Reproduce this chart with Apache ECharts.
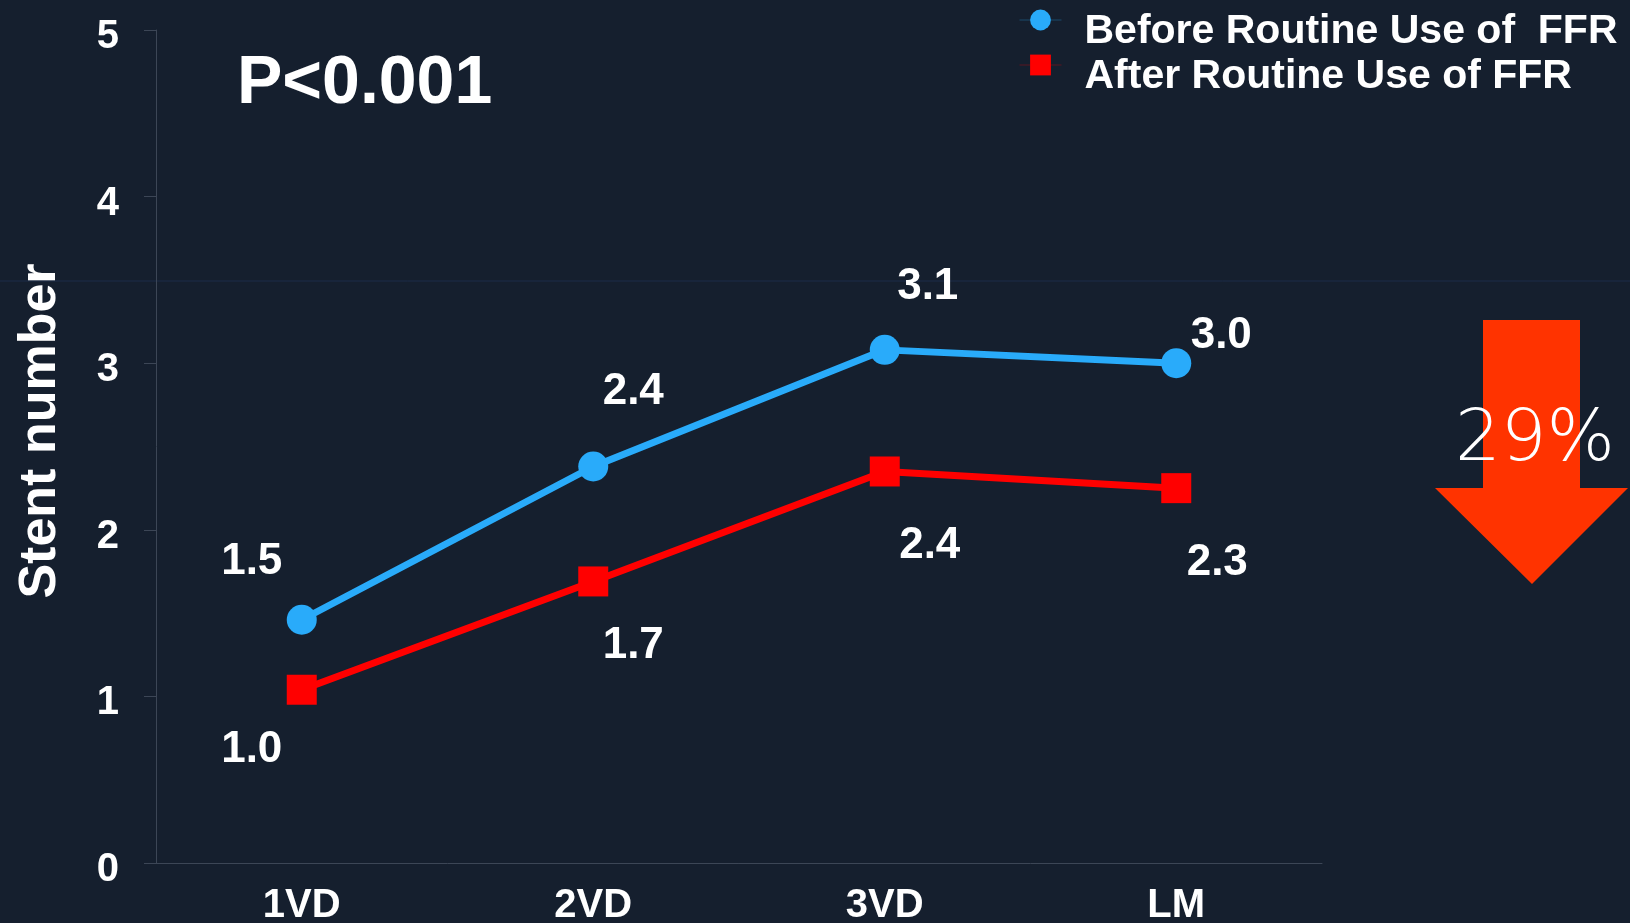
<!DOCTYPE html>
<html>
<head>
<meta charset="utf-8">
<title>Stent number</title>
<script src="https://cdn.jsdelivr.net/npm/echarts@6/dist/echarts.min.js"></script>
<style>
  html, body { margin: 0; padding: 0; background: #151f2e; }
  #chart { width: 1630px; height: 923px; }
</style>
</head>
<body>
<div id="chart"></div>
<script>
// Data
var categories = ['1VD', '2VD', '3VD', 'LM'];
var beforeValues = [1.46, 2.38, 3.08, 3.00];
var afterValues = [1.04, 1.69, 2.35, 2.25];
var beforeLabels = ['1.5', '2.4', '3.1', '3.0'];
var afterLabels = ['1.0', '1.7', '2.4', '2.3'];
var yTicks = [0, 1, 2, 3, 4, 5];
var seriesNames = ['Before Routine Use of  FFR', 'After Routine Use of FFR'];

// where each value label sits relative to its marker
var beforeOffsets = [[-50, -58], [40, -75], [43, -63], [45, -27]];
var afterOffsets = [[-50, 60], [40, 64], [45, 74], [41, 75]];

var FONT = "'Liberation Sans', Arial, sans-serif";

document.addEventListener('DOMContentLoaded', function() {
    var chart = echarts.init(document.getElementById('chart'));

    function withLabels(values, offsets) {
        return values.map(function(v, i) {
            return { value: v, label: { offset: offsets[i] } };
        });
    }

    // two stacked legends: one draws the markers, the other the text
    // (the text sits a little lower than the markers on the slide)
    function legend(top, showIcons, showText) {
        return {
            left: 1019,
            top: top,
            padding: 0,
            orient: 'vertical',
            itemWidth: 42,
            itemHeight: 26,
            itemGap: 1,
            itemStyle: { opacity: showIcons ? 1 : 0 },
            lineStyle: { width: 1, opacity: showIcons ? 0.3 : 0 },
            textStyle: {
                color: showText ? '#ffffff' : 'rgba(0,0,0,0)',
                fontFamily: FONT,
                fontWeight: 'bold',
                fontSize: 41,
                lineHeight: 24,
                padding: [20, 0, 0, 18]
            },
            data: seriesNames
        };
    }

    var option = {
        backgroundColor: '#151f2e',
        animation: false,
        grid: { left: 156, right: 308, top: 30, bottom: 60, outerBoundsMode: 'none' },
        legend: [legend(-2, true, false), legend(10, false, true)],
        xAxis: {
            type: 'category',
            data: categories,
            boundaryGap: true,
            axisLine: { lineStyle: { color: '#3c4656', width: 1 } },
            axisTick: { alignWithLabel: true, length: 13, lineStyle: { color: '#3c4656' } },
            axisLabel: {
                color: '#ffffff',
                fontFamily: FONT,
                fontWeight: 'bold',
                fontSize: 40,
                margin: 23
            },
            splitLine: { show: false }
        },
        yAxis: {
            type: 'value',
            min: yTicks[0],
            max: yTicks[yTicks.length - 1],
            interval: 1,
            axisLine: { show: true, lineStyle: { color: '#3c4656', width: 1 } },
            axisTick: { show: true, length: 12, lineStyle: { color: '#3c4656' } },
            axisLabel: {
                color: '#ffffff',
                fontFamily: FONT,
                fontWeight: 'bold',
                fontSize: 40,
                margin: 37,
                verticalAlign: 'top',
                lineHeight: 14
            },
            splitLine: { show: false }
        },
        series: [
            {
                name: seriesNames[0],
                type: 'line',
                data: withLabels(beforeValues, beforeOffsets),
                symbol: 'circle',
                symbolSize: 30,
                color: '#29abfa',
                lineStyle: { width: 7, color: '#29abfa' },
                itemStyle: { color: '#29abfa' },
                label: {
                    show: true,
                    position: 'inside',
                    color: '#ffffff',
                    fontFamily: FONT,
                    fontWeight: 'bold',
                    fontSize: 44,
                    formatter: function(p) { return beforeLabels[p.dataIndex]; }
                },
                z: 3
            },
            {
                name: seriesNames[1],
                type: 'line',
                data: withLabels(afterValues, afterOffsets),
                symbol: 'rect',
                symbolSize: 30,
                color: '#ff0000',
                lineStyle: { width: 7, color: '#ff0000' },
                itemStyle: { color: '#ff0000' },
                label: {
                    show: true,
                    position: 'inside',
                    color: '#ffffff',
                    fontFamily: FONT,
                    fontWeight: 'bold',
                    fontSize: 44,
                    formatter: function(p) { return afterLabels[p.dataIndex]; }
                },
                z: 3
            }
        ],
        graphic: [
            // faint line across the slide
            {
                type: 'line',
                z: -1,
                shape: { x1: 0, y1: 281, x2: 1630, y2: 281 },
                style: { stroke: '#1c2d48', lineWidth: 1 }
            },
            {
                type: 'text',
                x: 41,
                y: 431,
                rotation: Math.PI / 2,
                style: {
                    text: 'Stent number',
                    fill: '#ffffff',
                    font: 'bold 52px ' + FONT,
                    align: 'center',
                    verticalAlign: 'middle'
                }
            },
            {
                type: 'text',
                x: 237,
                y: 84,
                style: {
                    text: 'P<0.001',
                    fill: '#ffffff',
                    font: 'bold 68px ' + FONT,
                    align: 'left',
                    verticalAlign: 'middle'
                }
            },
            {
                type: 'polygon',
                shape: {
                    points: [[1483, 320], [1580, 320], [1580, 488], [1628, 488],
                             [1532, 584], [1435, 488], [1483, 488]]
                },
                style: { fill: '#ff3300' }
            },
            {
                type: 'text',
                x: 1535,
                y: 441,
                z: 10,
                style: {
                    text: '29%',
                    fill: '#ffffff',
                    font: '200 72px "DejaVu Sans", Lato, sans-serif',
                    align: 'center',
                    verticalAlign: 'middle'
                }
            }
        ]
    };

    chart.setOption(option);
});
</script>
</body>
</html>
